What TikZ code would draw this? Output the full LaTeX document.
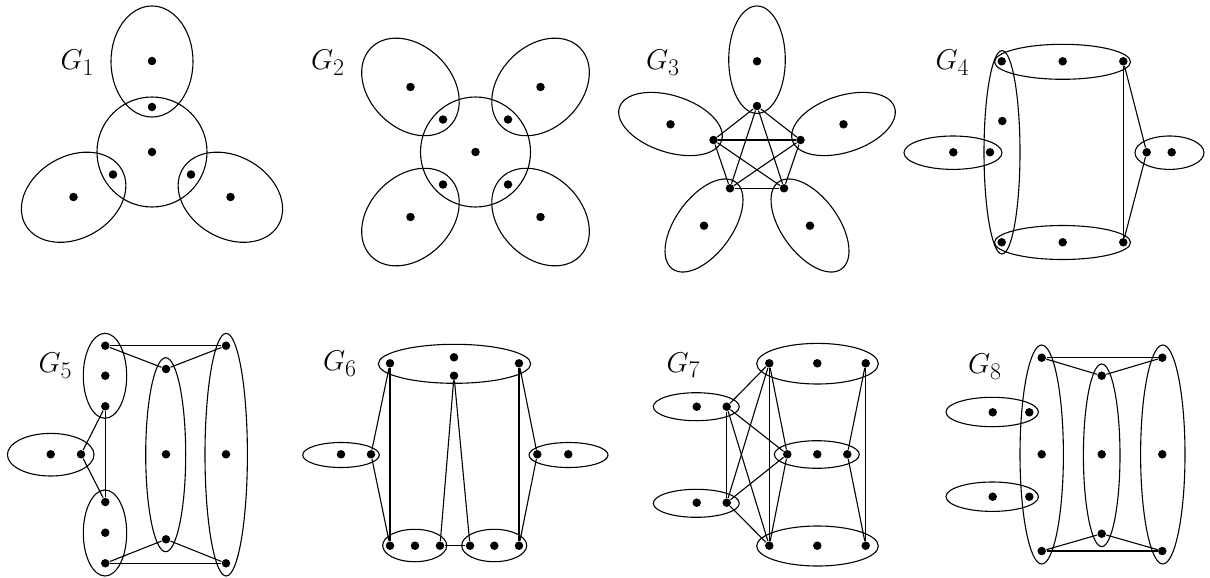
\documentclass[tikz,border=0pt]{standalone}
\newcommand{\glab}[1]{\scalebox{1.15}{$G_{#1}$}}
\begin{document}
\begin{tikzpicture}[x=1pt,y=-1pt,line width=1.1pt,
  v/.style={circle,fill,draw=none,inner sep=0pt,minimum size=8.5pt},
  lab/.style={anchor=base west,inner sep=0pt,font=\fontsize{24.88}{30}\selectfont}]
\useasboundingbox (0,0) rectangle (1210,578);
% ---------------- G1 ----------------
\node[lab] (l1) at (60,70) {\glab{1}};
\draw (152,152) circle [radius=55];
\foreach \r in {0,120,-120}
  \draw[rotate around={\r:(152,152)}] (152,61.5) ellipse [x radius=41, y radius=55.5];
\node[v] (a0) at (152,152) {};
\node[v] (a1) at (152,61) {};
\node[v] (a2) at (152,107) {};
\node[v] (a3) at (73.5,197) {};
\node[v] (a4) at (113,174.5) {};
\node[v] (a5) at (230.5,197) {};
\node[v] (a6) at (191,174.5) {};
% ---------------- G2 ----------------
\node[lab] (l2) at (310.5,70) {\glab{2}};
\draw (475.5,152) circle [radius=55];
\foreach \r in {45,135,-45,-135}
  \draw[rotate around={\r:(475.5,152)}] (475.5,60) ellipse [x radius=41, y radius=55.5];
\node[v] (b0) at (475.5,152) {};
\node[v] (b1) at (410.5,87) {};
\node[v] (b2) at (540.5,87) {};
\node[v] (b3) at (410.5,217) {};
\node[v] (b4) at (540.5,217) {};
\node[v] (b5) at (443,119.5) {};
\node[v] (b6) at (508,119.5) {};
\node[v] (b7) at (443,184.5) {};
\node[v] (b8) at (508,184.5) {};
% ---------------- G3 ----------------
\node[lab] (l3) at (645.5,70) {\glab{3}};
\draw (757,59.7) ellipse [x radius=28.3, y radius=53.7];
\draw[rotate around={72:(670.5,124)}] (670.5,124) ellipse [x radius=28.3, y radius=53.7];
\draw[rotate around={-72:(843.5,124)}] (843.5,124) ellipse [x radius=28.3, y radius=53.7];
\draw[rotate around={144:(704,225.5)}] (704,225.5) ellipse [x radius=28.3, y radius=53.7];
\draw[rotate around={-144:(810,225.5)}] (810,225.5) ellipse [x radius=28.3, y radius=53.7];
\node[v] (c1) at (757,106) {};
\node[v] (c2) at (713.5,140) {};
\node[v] (c3) at (800.5,140) {};
\node[v] (c4) at (730,188.3) {};
\node[v] (c5) at (784,188.3) {};
\node[v] (c6) at (757,61.3) {};
\node[v] (c7) at (670.5,124.3) {};
\node[v] (c8) at (843.5,124.3) {};
\node[v] (c9) at (704,225.7) {};
\node[v] (c10) at (810,225.7) {};
\foreach \p/\q in {c1/c2,c1/c3,c1/c4,c1/c5,c2/c3,c2/c4,c2/c5,c3/c4,c3/c5,c4/c5}
  \draw (\p) -- (\q);
% ---------------- G4 ----------------
\node[lab] (l4) at (935,69.5) {\glab{4}};
\draw (1062.5,61.8) ellipse [x radius=68, y radius=17.5];
\draw (1062.5,242.5) ellipse [x radius=68, y radius=17];
\draw (1002,152.3) ellipse [x radius=18, y radius=101.7];
\draw (953,152.7) ellipse [x radius=49, y radius=16.7];
\draw (1169.5,152.7) ellipse [x radius=34.5, y radius=16.7];
\node[v] (d1) at (1001.7,61.3) {};
\node[v] (d2) at (1062.7,61.3) {};
\node[v] (d3) at (1123.3,61.3) {};
\node[v] (d4) at (1001.7,242.3) {};
\node[v] (d5) at (1062.7,242.3) {};
\node[v] (d6) at (1123.3,242.3) {};
\node[v] (d7) at (1002.3,121) {};
\node[v] (d8) at (953.3,152.3) {};
\node[v] (d9) at (990,152.3) {};
\node[v] (d10) at (1146.7,152.3) {};
\node[v] (d11) at (1171.7,152.3) {};
\draw (d3) -- (d6);
\draw (d3) -- (d10) -- (d6);
% ---------------- G5 ----------------
\node[lab] (l5) at (38,372.5) {\glab{5}};
\draw (105,375.8) ellipse [x radius=21.7, y radius=42.5];
\draw (105,533) ellipse [x radius=21.7, y radius=43];
\draw (50.7,454.7) ellipse [x radius=43.3, y radius=21.3];
\draw (165.7,454.7) ellipse [x radius=20, y radius=97];
\draw (226.2,454.7) ellipse [x radius=21.2, y radius=121.3];
\node[v] (e1) at (105.3,345.7) {};
\node[v] (e2) at (105.3,375.7) {};
\node[v] (e3) at (105.3,406.3) {};
\node[v] (e4) at (105.3,502) {};
\node[v] (e5) at (105.3,532.7) {};
\node[v] (e6) at (105.3,563.3) {};
\node[v] (e7) at (50.7,454.3) {};
\node[v] (e8) at (81,454.3) {};
\node[v] (e9) at (166,369) {};
\node[v] (e10) at (166,454.3) {};
\node[v] (e11) at (166,539.3) {};
\node[v] (e12) at (226,345.7) {};
\node[v] (e13) at (226,454.3) {};
\node[v] (e14) at (226,563.3) {};
\foreach \p/\q in {e1/e12,e1/e9,e9/e12,e6/e14,e6/e11,e11/e14,e3/e8,e8/e4,e3/e4}
  \draw (\p) -- (\q);
% ---------------- G6 ----------------
\node[lab] (l6) at (322.5,370.5) {\glab{6}};
\draw (454.5,363.8) ellipse [x radius=76.2, y radius=19.5];
\draw (341,455) ellipse [x radius=38.3, y radius=12.5];
\draw (568.5,455) ellipse [x radius=39.5, y radius=12.5];
\draw (414.7,545.5) ellipse [x radius=32, y radius=16.2];
\draw (494.2,545.5) ellipse [x radius=32.5, y radius=16.2];
\node[v] (f1) at (390,363.3) {};
\node[v] (f2) at (454,357.3) {};
\node[v] (f3) at (454,375.7) {};
\node[v] (f4) at (519,363.3) {};
\node[v] (f5) at (341,454.3) {};
\node[v] (f6) at (371,454.3) {};
\node[v] (f7) at (537.3,454.3) {};
\node[v] (f8) at (568.3,454.3) {};
\node[v] (f9) at (390,545.7) {};
\node[v] (f10) at (415,545.7) {};
\node[v] (f11) at (440,545.7) {};
\node[v] (f12) at (470,545.7) {};
\node[v] (f13) at (494.3,545.7) {};
\node[v] (f14) at (519,545.7) {};
\foreach \p/\q in {f1/f9,f1/f6,f6/f9,f4/f14,f4/f7,f7/f14,f3/f11,f3/f12,f11/f12}
  \draw (\p) -- (\q);
% ---------------- G7 ----------------
\node[lab] (l7) at (666,372) {\glab{7}};
\draw (817.5,363.7) ellipse [x radius=60.8, y radius=20.3];
\draw (816.8,454.5) ellipse [x radius=42.5, y radius=13.8];
\draw (817.5,546) ellipse [x radius=60.8, y radius=20];
\draw (696.3,406.7) ellipse [x radius=43, y radius=14];
\draw (696.3,503.3) ellipse [x radius=43, y radius=14];
\node[v] (g1) at (769.3,363.3) {};
\node[v] (g2) at (817.3,363.3) {};
\node[v] (g3) at (865.7,363.3) {};
\node[v] (g4) at (787.3,454.3) {};
\node[v] (g5) at (817.3,454.3) {};
\node[v] (g6) at (847.3,454.3) {};
\node[v] (g7) at (769.3,545.7) {};
\node[v] (g8) at (817.3,545.7) {};
\node[v] (g9) at (865.7,545.7) {};
\node[v] (g10) at (696.7,406.7) {};
\node[v] (g11) at (726.7,406.7) {};
\node[v] (g12) at (696.7,502.7) {};
\node[v] (g13) at (726.7,502.7) {};
\foreach \p/\q in {g11/g13,g11/g1,g11/g4,g11/g7,g13/g1,g13/g4,g13/g7,g1/g7,g1/g4,g4/g7,g3/g9,g3/g6,g6/g9}
  \draw (\p) -- (\q);
% ---------------- G8 ----------------
\node[lab] (l8) at (967.5,373.5) {\glab{8}};
\draw (1041.7,454.5) ellipse [x radius=21.7, y radius=109.5];
\draw (1101.7,455.3) ellipse [x radius=18.3, y radius=91.3];
\draw (1162.8,454.5) ellipse [x radius=22.2, y radius=109.5];
\draw (992.2,412) ellipse [x radius=46.2, y radius=14.7];
\draw (992.2,496.7) ellipse [x radius=46.2, y radius=14.7];
\node[v] (h1) at (1041.7,357.7) {};
\node[v] (h2) at (1041.7,454.3) {};
\node[v] (h3) at (1041.7,551) {};
\node[v] (h4) at (1101.7,375.7) {};
\node[v] (h5) at (1101.7,454.3) {};
\node[v] (h6) at (1101.7,533.7) {};
\node[v] (h7) at (1162.3,357.7) {};
\node[v] (h8) at (1162.3,454.3) {};
\node[v] (h9) at (1162.3,551) {};
\node[v] (h10) at (992.7,412.3) {};
\node[v] (h11) at (1029.3,412.3) {};
\node[v] (h12) at (992.7,496.7) {};
\node[v] (h13) at (1029.3,496.7) {};
\foreach \p/\q in {h1/h7,h1/h4,h4/h7,h3/h9,h3/h6,h6/h9}
  \draw (\p) -- (\q);
\end{tikzpicture}
\end{document}
